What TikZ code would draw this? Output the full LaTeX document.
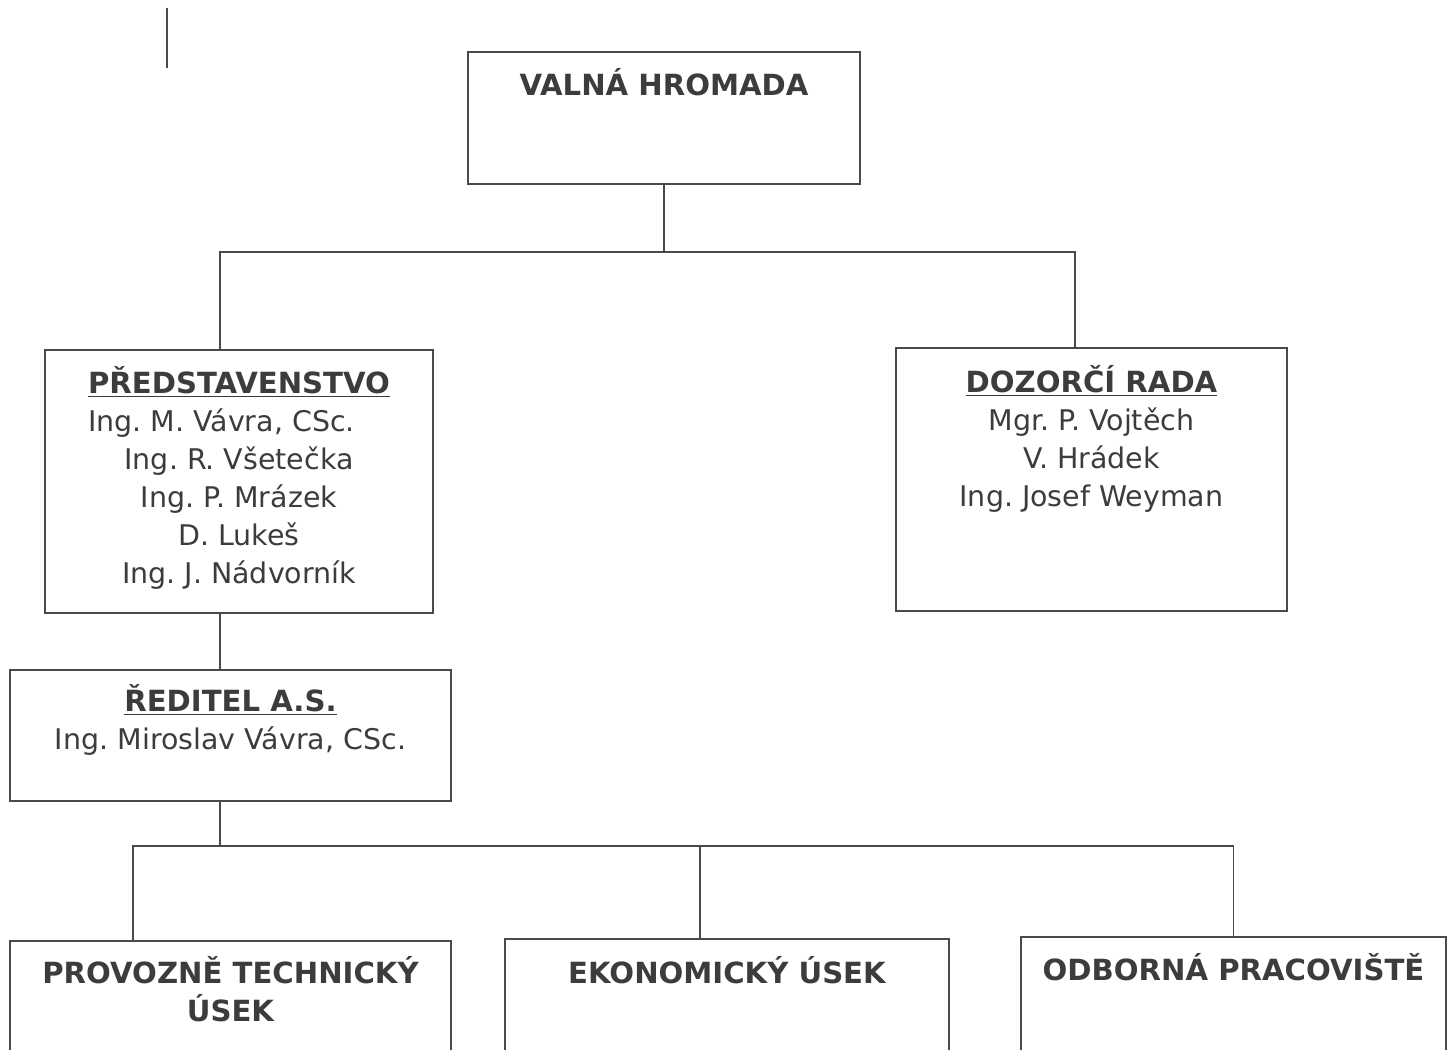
\documentclass[tikz,border=0pt]{standalone}
\usepackage{fontspec}
\setmainfont{DejaVu Sans}
\usepackage{xcolor}
\usepackage{tikz}
\usetikzlibrary{positioning}
\definecolor{linegray}{HTML}{4A4A4A}
\definecolor{textgray}{HTML}{3C3C3C}
\frenchspacing
\newcommand{\boxtitle}[1]{{\fontsize{16.6}{21.7}\selectfont\bfseries #1}}

\begin{document}
\begin{tikzpicture}[x=0.02cm,y=-0.02cm,
		unit/.style={draw=linegray,line width=1pt,inner sep=0pt},
		head/.style={inner sep=0pt,align=center,text=textgray,font=\fontsize{16.2}{21.7}\selectfont},
		link/.style={draw=linegray,line width=1pt}]
		\useasboundingbox (0,0) rectangle (1454,1050);
		\clip (0,0) rectangle (1454,1050);
		\draw[link] (167,8) -- (167,68);

		\node[unit,minimum width=7.84cm,minimum height=2.64cm] (valna) at (664,118) {};
		\node[head,below=0.34cm of valna.north] (valnaT) {\boxtitle{VALNÁ HROMADA}};

		\node[unit,minimum width=7.76cm,minimum height=5.26cm] (pred) at (239,481.5) {};
		\node[head,below=0.33cm of pred.north] (predT) {\underline{\boxtitle{PŘEDSTAVENSTVO}}\\
			Ing. M. Vávra, CSc.\hspace*{20pt}\null\\Ing. R. Všetečka\\Ing. P. Mrázek\\D. Lukeš\\Ing. J. Nádvorník};

		\node[unit,minimum width=7.82cm,minimum height=5.26cm] (dozor) at (1091.5,479.5) {};
		\node[head,below=0.35cm of dozor.north] (dozorT) {\underline{\boxtitle{DOZORČÍ RADA}}\\
			Mgr. P. Vojtěch\\V. Hrádek\\Ing. Josef Weyman};

		\node[unit,minimum width=8.82cm,minimum height=2.62cm] (redit) at (230.5,735.5) {};
		\node[head,below=0.29cm of redit.north] (reditT) {\underline{\boxtitle{ŘEDITEL A.S.}}\\
			Ing. Miroslav Vávra, CSc.};

		% lower row, cut by the page edge
		\node[unit,minimum width=8.82cm,minimum height=4.8cm] (provoz) at (230.5,1061) {};
		\node[head,below=0.32cm of provoz.north] (provozT) {\boxtitle{PROVOZNĚ TECHNICKÝ}\\\boxtitle{ÚSEK}};
		\node[unit,minimum width=8.88cm,minimum height=4.8cm] (ekon) at (727,1059) {};
		\node[head,below=0.36cm of ekon.north] (ekonT) {\boxtitle{EKONOMICKÝ ÚSEK}};
		\node[unit,minimum width=8.5cm,minimum height=4.8cm] (odbor) at (1233.5,1057) {};
		\node[head,below=0.34cm of odbor.north] (odborT) {\boxtitle{ODBORNÁ PRACOVIŠTĚ}};

		\coordinate (busTop) at ([yshift=-1.34cm]valna.south);
		\draw[link] (valna.south) -- (busTop);
		\draw[link] ([xshift=-0.38cm]pred.north) |- (busTop) -| ([xshift=-0.33cm]dozor.north);

		\coordinate (predOut) at ([xshift=-0.38cm]pred.south);
		\draw[link] (predOut) -- (predOut |- redit.north);
		\coordinate (reditOut) at (predOut |- redit.south);
		\coordinate (busLow) at ([yshift=-0.88cm]reditOut);
		\draw[link] (reditOut) -- (busLow);
		\draw[link] ([xshift=-1.95cm]provoz.north) |- (busLow) -| ([xshift=-0.54cm]ekon.north);
		\draw[link] (busLow) -| (odbor.north);
\end{tikzpicture}
\end{document}
